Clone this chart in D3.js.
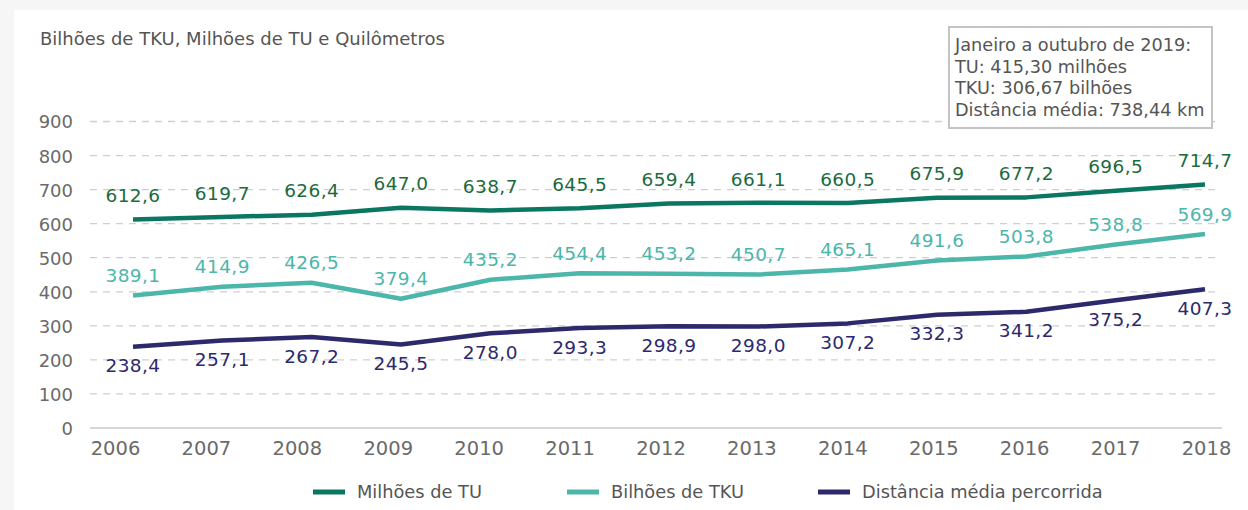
<!DOCTYPE html>
<html><head><meta charset="utf-8">
<script src="https://cdn.jsdelivr.net/npm/d3@7"></script>
<style>
html,body{margin:0;padding:0;background:#f6f6f6;}
svg{display:block;}
text{font-family:"DejaVu Sans",sans-serif;}
</style></head>
<body>
<svg id="c" width="1248" height="510"></svg>
<script>
const years = [2006,2007,2008,2009,2010,2011,2012,2013,2014,2015,2016,2017,2018];
const milhoesTU = [612.6,619.7,626.4,647.0,638.7,645.5,659.4,661.1,660.5,675.9,677.2,696.5,714.7];
const bilhoesTKU = [389.1,414.9,426.5,379.4,435.2,454.4,453.2,450.7,465.1,491.6,503.8,538.8,569.9];
const distancia = [238.4,257.1,267.2,245.5,278.0,293.3,298.9,298.0,307.2,332.3,341.2,375.2,407.3];
const yTicks = [0,100,200,300,400,500,600,700,800,900];
const seriesNames = ["Milhões de TU","Bilhões de TKU","Distância média percorrida"];
const titleText = "Bilhões de TKU, Milhões de TU e Quilômetros";
const noteLines = ["Janeiro a outubro de 2019:","TU: 415,30 milhões","TKU: 306,67 bilhões","Distância média: 738,44 km"];

const svg = d3.select("#c");
svg.append("rect").attr("x",14).attr("y",10).attr("width",1234).attr("height",500).attr("fill","#fff");

const y = d3.scaleLinear().domain([0,900]).range([428,121.5]);
const xData = d3.scalePoint().domain(years).range([133,1205]);
const xAxisS = d3.scalePoint().domain(years).range([115,1206]);
const fmt = v => d3.format(".1f")(v).replace(".",",");

// grid
const g = svg.append("g");
g.selectAll("line.grid").data(yTicks.filter(d=>d>0)).join("line")
  .attr("x1",90).attr("x2",1220)
  .attr("y1",d=>y(d)).attr("y2",d=>y(d))
  .attr("stroke","#cfcfcf").attr("stroke-width",1.3).attr("stroke-dasharray","7,6");
g.append("line").attr("x1",90).attr("x2",1222).attr("y1",y(0)).attr("y2",y(0))
  .attr("stroke","#d6d6d6").attr("stroke-width",2);

// y axis labels
const yAxis = d3.axisLeft(y).tickValues(yTicks).tickSize(0).tickPadding(0).tickFormat(d3.format("d"));
const ya = svg.append("g").attr("transform","translate(73,0)").call(yAxis);
ya.select(".domain").remove();
ya.selectAll("text").attr("font-size",18).attr("fill","#6a6a6a").attr("font-family","DejaVu Sans").attr("dy","0.36em");

// x axis labels
const xAxis = d3.axisBottom(xAxisS).tickSize(0).tickPadding(0).tickFormat(d=>String(d));
const xa = svg.append("g").attr("transform","translate(0,441)").call(xAxis);
xa.select(".domain").remove();
xa.selectAll("text").attr("font-size",19.5).attr("fill","#6a6a6a").attr("font-family","DejaVu Sans").attr("dy","0.71em");

const series = [
  {name:seriesNames[0], vals:milhoesTU, line:"#0b7760", label:"#1b6b3d", dy:-24},
  {name:seriesNames[1], vals:bilhoesTKU, line:"#4cb6aa", label:"#4cb6aa", dy:-20},
  {name:seriesNames[2], vals:distancia, line:"#2c2a6d", label:"#2c2a6d", dy:19}
];
const lineGen = d3.line().x((d,i)=>xData(years[i])).y(d=>y(d));
series.forEach(s=>{
  svg.append("path").datum(s.vals).attr("d",lineGen)
    .attr("fill","none").attr("stroke",s.line).attr("stroke-width",4.5).attr("stroke-linejoin","round");
  svg.append("g").selectAll("text").data(s.vals).join("text")
    .attr("x",(d,i)=>xData(years[i])).attr("y",d=>y(d)+s.dy)
    .attr("dy","0.36em").attr("text-anchor","middle")
    .attr("font-size",18.5).attr("letter-spacing","0.4px").attr("fill",s.label)
    .text(d=>fmt(d));
});

// title
svg.append("text").attr("x",40).attr("y",45).attr("font-size",18).attr("fill","#555")
  .text(titleText);

// note box
svg.append("rect").attr("x",949).attr("y",27).attr("width",263).attr("height",101)
  .attr("fill","#fff").attr("stroke","#c4c4c4").attr("stroke-width",2);
svg.append("g").selectAll("text").data(noteLines).join("text")
  .attr("x",955).attr("y",(d,i)=>51+i*21.5).attr("font-size",17.7).attr("fill","#555").text(d=>d);

// legend
const legX = [313,567,818];
const lg = svg.append("g");
series.forEach((s,i)=>{
  lg.append("line").attr("x1",legX[i]).attr("x2",legX[i]+32).attr("y1",492).attr("y2",492)
    .attr("stroke",s.line).attr("stroke-width",5);
  lg.append("text").attr("x",legX[i]+44).attr("y",492).attr("dy","0.36em")
    .attr("font-size",17.8).attr("fill","#555").text(s.name);
});
</script>
</body></html>
